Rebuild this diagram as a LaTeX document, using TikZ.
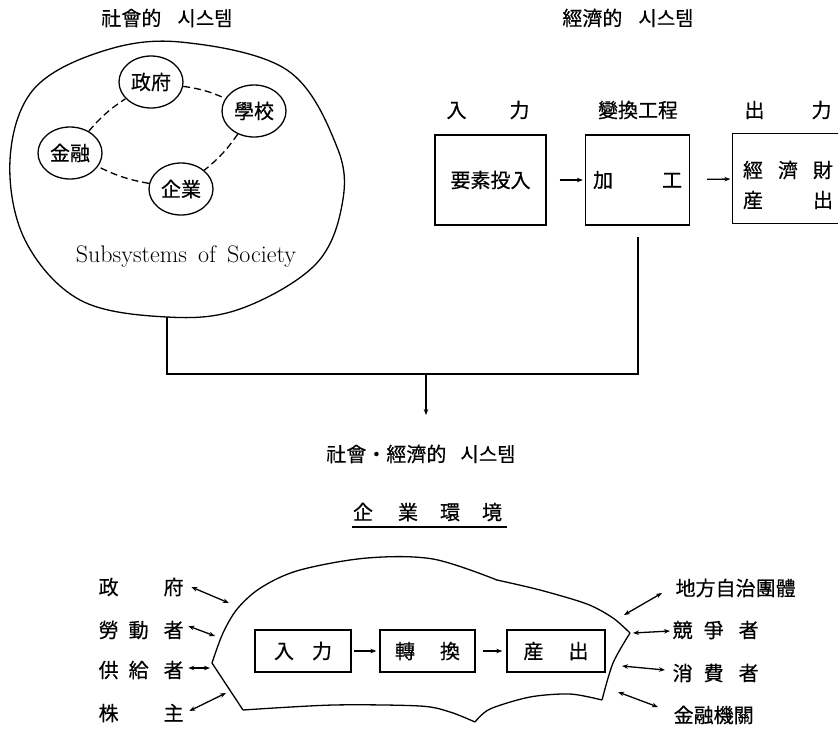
\documentclass[tikz,border=0pt]{standalone}
\usepackage{fontspec}
\newfontfamily\cjk[FakeBold=0.5]{Noto Sans CJK KR}
\usetikzlibrary{shapes.geometric,arrows.meta}
\begin{document}
\begin{tikzpicture}[x=1pt,y=-1pt, line width=1.3pt,
  every node/.style={font=\cjk\fontsize{20}{20}\selectfont, inner sep=0pt},
  circ/.style={draw, ellipse, minimum width=64pt, minimum height=52pt},
  box/.style={draw, rectangle, inner sep=0pt},
  dsh/.style={dash pattern=on 7pt off 4pt},
  arr/.style={-{Stealth[length=6pt,width=4.5pt]}},
  dar/.style={{Stealth[length=6pt,width=4.5pt]}-{Stealth[length=6pt,width=4.5pt]}}]
\useasboundingbox (0,0) rectangle (838,729);

% titles
\node (t1) at (167,18) {社會的\hspace{16pt}시스템};
\node (t2) at (628,18) {經濟的\hspace{16pt}시스템};

% social system blob
\draw plot[smooth cycle, tension=0.6] coordinates {(180,42) (287,70) (337,147) (342,205) (315,265) (240,309) (167,317) (80,300) (25,240) (10,160) (33,90) (100,52)};
\node[circ] (gov) at (151,82) {政府};
\node[circ] (sch) at (254,111) {學校};
\node[circ] (fin) at (70,153) {金融};
\node[circ] (ent) at (181,189) {企業};
\draw[dsh] (gov) to[bend left=8] (sch);
\draw[dsh] (sch) to[bend left=8] (ent);
\draw[dsh] (ent) to[bend left=8] (fin);
\draw[dsh] (fin) to[bend left=8] (gov);
\node[font=\fontsize{24}{24}\selectfont] (sub) at (186,257) {Subsystems\hspace{4pt} of\hspace{4pt} Society};

% economic system
\node (lin) at (488,110) {入\hspace{43pt}力};
\node (lproc) at (638,110) {變換工程};
\node (lout) at (788,110) {出\hspace{47pt}力};
\node[box, minimum width=111, minimum height=90] (inp) at (490.5,180) {要素投入};
\node[box, minimum width=104, minimum height=90] (proc) at (637.5,180) {加\hspace{49pt}工};
\node[minimum width=106, minimum height=89] (outb) at (786,178.5) {};
\draw (outb.north east) -- (outb.north west) -- (outb.south west) -- (outb.south east);
\node (o1) at (753,170) {經};
\node (o2) at (788,170) {濟};
\node (o3) at (823,170) {財};
\node (o4) at (753,200) {産};
\node (o5) at (823,200) {出};
\draw[arr, shorten <=13pt, shorten >=2pt] (inp) -- (proc);
\draw[arr, shorten <=17pt, shorten >=2pt] (proc) -- (outb);

% joining lines
\coordinate (bb) at (167,317);
\coordinate (pb) at (638,237);
\coordinate (jl) at (167,374);
\coordinate (jr) at (638,374);
\coordinate (jm) at (426,374);
\draw (bb) -- (jl) -- (jr) -- (pb);
\node (soc) at (421,454) {社會・經濟的\hspace{14pt}시스템};
\draw[arr, shorten >=29pt] (jm) -- (jm |- soc.north);

% enterprise environment
\node (envt) at (427.5,512) {企\hspace{25pt}業\hspace{22pt}環\hspace{22pt}境};
\coordinate (u1) at (352,527);
\coordinate (u2) at (507,527);
\draw (u1) -- (u2);

\draw plot[smooth, tension=0.55] coordinates {(212,663) (223,633) (238,608) (262,587) (300,570) (367,558) (433,559) (497,580)};
\draw plot[smooth, tension=0.5] coordinates {(497,580) (540,590) (587,604) (613,618) (630,633)};
\draw plot[smooth, tension=0.5] coordinates {(630,633) (613,663) (602,700)};
\draw plot[smooth, tension=0.5] coordinates {(602,700) (570,694) (530,697) (490,709) (475,722)};
\draw plot[smooth, tension=0.5] coordinates {(475,722) (450,712) (420,706) (333,705) (243,710)};
\draw (243,710) -- (212,663);

\node[box, minimum width=96, minimum height=42] (bin) at (303,651) {入\hspace{18pt}力};
\node[box, minimum width=95, minimum height=42] (btr) at (427.5,651) {轉\hspace{25pt}換};
\node[box, minimum width=98, minimum height=42] (bout) at (556,651) {産\hspace{25pt}出};
\draw[arr, shorten <=2pt, shorten >=3pt] (bin) -- (btr);
\draw[arr, shorten <=7pt, shorten >=4pt] (btr) -- (bout);

% left stakeholders
\node[anchor=west] (lg) at (98,587) {政\hspace{45pt}府};
\node[anchor=west] (ll) at (98,630) {勞\hspace{10pt}動\hspace{15pt}者};
\node[anchor=west] (ls) at (98,670) {供\hspace{10pt}給\hspace{15pt}者};
\node[anchor=west] (lh) at (98,713) {株\hspace{45pt}主};
\coordinate (c1) at (229,603);
\coordinate (c2) at (215,636);
\coordinate (c3) at (210,668);
\coordinate (c4) at (226,693);
\draw[dar] ([shift={(7,0)}]lg.east) -- (c1);
\draw[dar] ([shift={(4,-4)}]ll.east) -- (c2);
\draw[dar] ([shift={(4,-2)}]ls.east) -- (c3);
\draw[dar] ([shift={(5,-2)}]lh.east) -- (c4);

% right stakeholders
\node[anchor=west] (rl) at (675,588) {地方自治團體};
\node[anchor=west] (rc) at (672,630) {競\hspace{11pt}爭\hspace{15pt}者};
\node[anchor=west] (rcon) at (672,673) {消\hspace{11pt}費\hspace{15pt}者};
\node[anchor=west] (rf) at (673,715) {金融機關};
\coordinate (d1) at (624,615);
\coordinate (d2) at (633,633);
\coordinate (d3) at (622,666);
\coordinate (d4) at (618,692);
\draw[dar] (d1) -- ([shift={(-13,5)}]rl.west);
\draw[dar] (d2) -- ([shift={(-2,1)}]rc.west);
\draw[dar] (d3) -- ([shift={(-7,-3)}]rcon.west);
\draw[dar] (d4) -- ([shift={(-15,-8)}]rf.west);
\end{tikzpicture}
\end{document}
